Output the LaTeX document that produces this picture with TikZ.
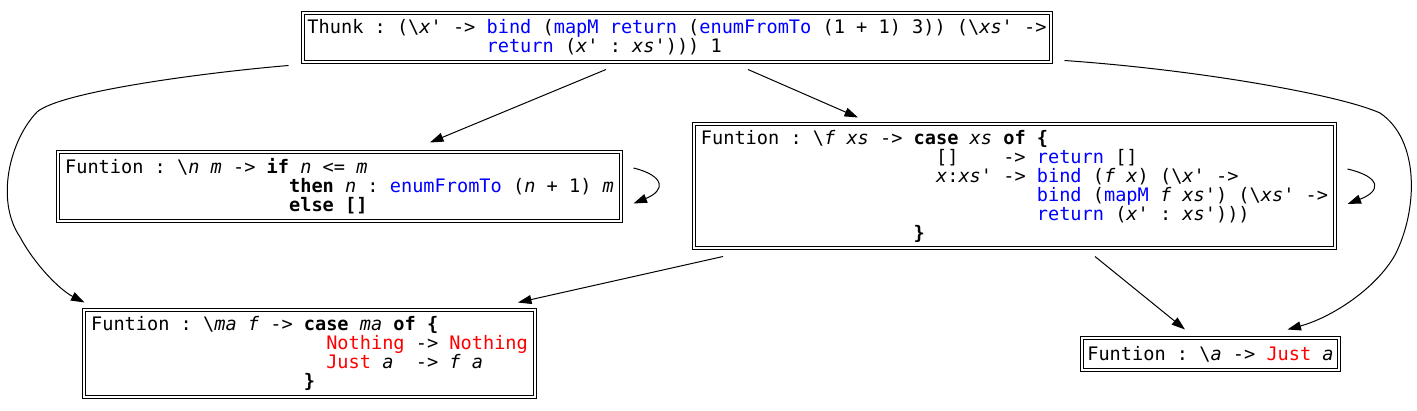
\documentclass[tikz,border=0pt]{standalone}
\usepackage{fontspec}
\setmonofont{DejaVu Sans Mono}
\usetikzlibrary{arrows.meta}
\definecolor{fnblue}{RGB}{0,0,255}
\definecolor{ctred}{RGB}{255,0,0}
\newcommand\hsV[1]{{\itshape #1}}
\newcommand\hsK[1]{{\bfseries #1}}
\newcommand\hsF[1]{\textcolor{fnblue}{#1}}
\newcommand\hsC[1]{\textcolor{ctred}{#1}}
\newcommand\hsB{\textbackslash}
\newcommand\hsI[1]{\hspace*{#1\fontcharwd\font`M}}
\begin{document}
\begin{tikzpicture}[x=1pt,y=1pt,
  box/.style={draw, double, line width=1pt, double distance=2pt, inner sep=2pt,
    align=left, font=\ttfamily\fontsize{18.6pt}{19pt}\selectfont},
  edge/.style={line width=1pt, -{Triangle[length=13.5pt,width=9pt]}}]
\useasboundingbox (0,0) rectangle (1417,-411);

\node[box, minimum width=748pt, minimum height=49pt] (thunk) at (677,-37.5)
 {Thunk : (\hsB\hsV{x}' -> \hsF{bind} (\hsF{mapM} \hsF{return} (\hsF{enumFromTo} (1 + 1) 3)) (\hsB\hsV{xs}' ->\\
  \hsI{16}\hsF{return} (\hsV{x}' : \hsV{xs}'))) 1};

\node[box, minimum width=563pt, minimum height=69pt] (fnm) at (339.5,-186.5)
 {Funtion : \hsB\hsV{n} \hsV{m} -> \hsK{if} \hsV{n} <= \hsV{m}\\
  \hsI{20}\hsK{then} \hsV{n} : \hsF{enumFromTo} (\hsV{n} + 1) \hsV{m}\\
  \hsI{20}\hsK{else []}};

\node[box, minimum width=641pt, minimum height=124pt] (fxs) at (1014.5,-186.5)
 {Funtion : \hsB\hsV{f} \hsV{xs} -> \hsK{case} \hsV{xs} \hsK{of \{}\\
  \hsI{21}[]~~~~-> \hsF{return} []\\
  \hsI{21}\hsV{x}:\hsV{xs}' -> \hsF{bind} (\hsV{f} \hsV{x}) (\hsB\hsV{x}' ->\\
  \hsI{30}\hsF{bind} (\hsF{mapM} \hsV{f} \hsV{xs}') (\hsB\hsV{xs}' ->\\
  \hsI{30}\hsF{return} (\hsV{x}' : \hsV{xs}')))\\
  \hsI{19}\hsK{\}}};

\node[box, minimum width=451pt, minimum height=87pt] (fma) at (309.5,-353.5)
 {Funtion : \hsB\hsV{ma} \hsV{f} -> \hsK{case} \hsV{ma} \hsK{of \{}\\
  \hsI{21}\hsC{Nothing} -> \hsC{Nothing}\\
  \hsI{21}\hsC{Just} \hsV{a}~~-> \hsV{f} \hsV{a}\\
  \hsI{19}\hsK{\}}};

\node[box, minimum width=257pt, minimum height=32pt] (fa) at (1210.5,-354)
 {Funtion : \hsB\hsV{a} -> \hsC{Just} \hsV{a}};

% straight edges
\draw[edge] ([shift={(-71,-7)}]thunk.south) -- ([shift={(90.5,9)}]fnm.north);
\draw[edge] ([shift={(71,-7)}]thunk.south) -- ([shift={(-156.5,6.5)}]fxs.north);
\draw[edge] ([shift={(-291.5,-7.5)}]fxs.south) -- ([shift={(208.5,7)}]fma.north);
\draw[edge] ([shift={(80.5,-7.5)}]fxs.south) -- ([shift={(-25.5,8)}]fa.north);

% long curved edges
\draw[edge] ([shift={(-14,-3)}]thunk.south west)
  .. controls (200,-73) and (60,-92) .. (37,-112)
  .. controls (10,-140) and (-5,-200) .. (20,-237)
  .. controls (35,-265) and (60,-290) .. ([shift={(1,7)}]fma.north west);
\draw[edge] ([shift={(13,2)}]thunk.south east)
  .. controls (1200,-70) and (1340,-95) .. (1380,-113)
  .. controls (1420,-140) and (1418,-210) .. (1395,-255)
  .. controls (1375,-290) and (1330,-318) .. ([shift={(-52,8)}]fa.north east);

% self loops
\draw[edge] ([shift={(12,18.5)}]fnm.east)
  .. controls +(32,-8) and +(32,13) .. ([shift={(12,-17)}]fnm.east);
\draw[edge] ([shift={(12,17.5)}]fxs.east)
  .. controls +(34,-8) and +(34,13) .. ([shift={(12,-17.5)}]fxs.east);
\end{tikzpicture}
\end{document}
